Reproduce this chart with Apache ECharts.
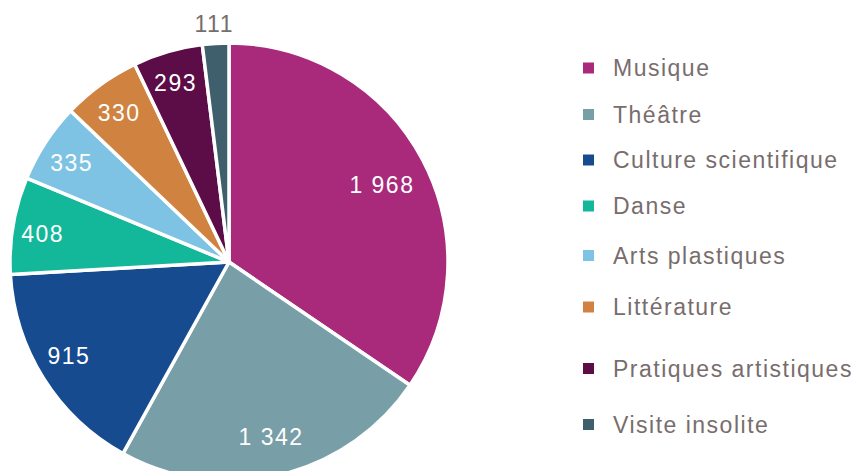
<!DOCTYPE html>
<html>
<head>
<meta charset="utf-8">
<script src="https://cdn.jsdelivr.net/npm/echarts@6/dist/echarts.min.js"></script>
<style>
  html, body { margin: 0; padding: 0; background: #ffffff; }
  #chart { width: 854px; height: 471px; }
  #chart text { letter-spacing: 1.5px; }
</style>
</head>
<body>
<div id="chart"></div>
<script>
// Participants par discipline
const categories = ['Musique', 'Théâtre', 'Culture scientifique', 'Danse', 'Arts plastiques', 'Littérature', 'Pratiques artistiques', 'Visite insolite'];
const values = [1968, 1342, 915, 408, 335, 330, 293, 111];
const colors = ['#A9297A', '#789EA8', '#174B8F', '#13B89A', '#7EC3E3', '#D08240', '#5C0C46', '#3E5F6B'];

// Layout: distance of each value label from the centre, small nudges, legend row centres
const labelDist = [170, 179, 186, 188, 186, 186, 188, 239];
const labelNudge = [[0, 4], [0, -2], [0, -7], [2, 4], [1, 4], [1, 4], [0, 4], [0, 4]];
const legendRows = [68, 114.5, 160, 206, 255.5, 307, 368.5, 424.5];

const CENTER = [229, 262];
const RADIUS = 219;
const FONT = '"Liberation Sans", Arial, sans-serif';
const TEXT_GREY = '#786D6D';

const fmt = v => String(v).replace(/\B(?=(\d{3})+(?!\d))/g, '\u00a0');

const pieData = categories.map((name, i) => ({ name, value: values[i], itemStyle: { color: colors[i] } }));

const series = [{
  type: 'pie',
  name: 'main',
  center: CENTER,
  radius: RADIUS,
  startAngle: 90,
  clockwise: true,
  avoidLabelOverlap: false,
  label: { show: false },
  labelLine: { show: false },
  emphasis: { disabled: true },
  itemStyle: { borderColor: '#ffffff', borderWidth: 3.5 },
  data: pieData
}];

// One transparent ring per value label, so each label sits at its own distance
categories.forEach((_, k) => {
  const d = labelDist[k];
  series.push({
    type: 'pie',
    center: CENTER,
    radius: [d - 20, d + 20],
    startAngle: 90,
    clockwise: true,
    silent: true,
    legendHoverLink: false,
    avoidLabelOverlap: false,
    emphasis: { disabled: true },
    labelLine: { show: false },
    itemStyle: { color: 'rgba(0,0,0,0)', borderWidth: 0 },
    data: categories.map((name, i) => ({
      name, value: values[i],
      itemStyle: { color: 'rgba(0,0,0,0)' },
      label: {
        show: i === k,
        position: 'inside',
        offset: labelNudge[i],
        formatter: fmt(values[i]),
        color: d > RADIUS ? TEXT_GREY : '#ffffff',
        fontFamily: FONT,
        fontSize: 23
      }
    }))
  });
});

const legend = categories.map((name, i) => ({
  data: [name],
  orient: 'vertical',
  left: 583,
  top: legendRows[i] - 12,
  padding: 0,
  itemWidth: 11,
  itemHeight: 11,
  icon: 'rect',
  itemStyle: { borderWidth: 0 },
  selectedMode: false,
  textStyle: { color: TEXT_GREY, fontFamily: FONT, fontSize: 23, lineHeight: 24, padding: [0, 0, 0, 14] }
}));

const chart = echarts.init(document.getElementById('chart'), null, { renderer: 'svg' });
chart.setOption({
  animation: false,
  backgroundColor: '#ffffff',
  legend,
  series
});
</script>
</body>
</html>
